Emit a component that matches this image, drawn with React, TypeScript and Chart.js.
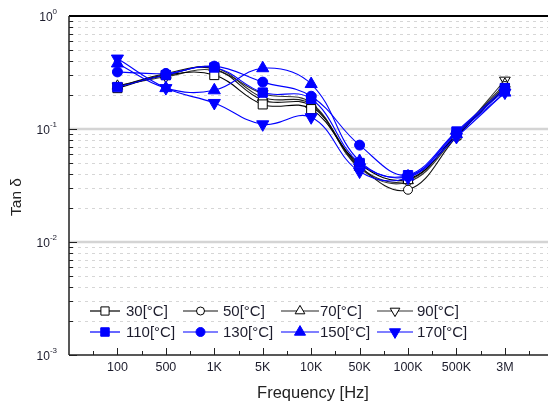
import React, { useEffect, useRef } from 'react';
import { Chart, registerables } from 'chart.js';

Chart.register(...registerables);

// ---- data ----
const categories = ['100', '500', '1K', '5K', '10K', '50K', '100K', '500K', '3M'];
const seriesLabels = ['30[°C]', '50[°C]', '70[°C]', '90[°C]', '110[°C]', '130[°C]', '150[°C]', '170[°C]'];
const t30 = [0.23, 0.30, 0.30, 0.165, 0.15, 0.049, 0.036, 0.088, 0.23];
const t50 = [0.235, 0.31, 0.34, 0.18, 0.16, 0.047, 0.029, 0.085, 0.24];
const t70 = [0.24, 0.30, 0.35, 0.19, 0.165, 0.046, 0.035, 0.09, 0.25];
const t90 = [0.24, 0.29, 0.33, 0.205, 0.17, 0.045, 0.034, 0.087, 0.27];
const t110 = [0.235, 0.30, 0.35, 0.21, 0.185, 0.05, 0.039, 0.095, 0.23];
const t130 = [0.32, 0.31, 0.36, 0.26, 0.195, 0.072, 0.039, 0.093, 0.22];
const t150 = [0.38, 0.23, 0.22, 0.345, 0.25, 0.052, 0.038, 0.09, 0.21];
const t170 = [0.42, 0.23, 0.17, 0.11, 0.127, 0.042, 0.037, 0.085, 0.21];
const seriesValues = [t30, t50, t70, t90, t110, t130, t150, t170];
const yTickExponents = [0, -1, -2, -3];
const xTitle = 'Frequency [Hz]';
const yTitle = 'Tan δ';

const FONT = '"Liberation Sans", Arial, sans-serif';
const BLUE = '#0000ff';

type Sty = { shape: string; down: boolean; color: string; fill: string; r: number; lineColor: string };
const styles: Sty[] = [
  { shape: 'rect', down: false, color: '#000', fill: '#fff', r: 6.4, lineColor: '#000' },
  { shape: 'circle', down: false, color: '#000', fill: '#fff', r: 4.5, lineColor: '#111' },
  { shape: 'triangle', down: false, color: '#000', fill: '#fff', r: 6.2, lineColor: '#222' },
  { shape: 'triangle', down: true, color: '#000', fill: '#fff', r: 6.2, lineColor: '#333' },
  { shape: 'rect', down: false, color: BLUE, fill: BLUE, r: 6.6, lineColor: BLUE },
  { shape: 'circle', down: false, color: BLUE, fill: BLUE, r: 5, lineColor: BLUE },
  { shape: 'triangle', down: false, color: BLUE, fill: BLUE, r: 7, lineColor: BLUE },
  { shape: 'triangle', down: true, color: BLUE, fill: BLUE, r: 7, lineColor: BLUE },
];

function drawMarker(ctx: CanvasRenderingContext2D, s: Sty, x: number, y: number, r: number) {
  ctx.save();
  ctx.beginPath();
  if (s.shape === 'rect') {
    const h = r * Math.SQRT1_2;
    ctx.rect(x - h, y - h, 2 * h, 2 * h);
  } else if (s.shape === 'circle') {
    ctx.arc(x, y, r, 0, Math.PI * 2);
  } else {
    const d = s.down ? -1 : 1;
    ctx.moveTo(x, y - d * r);
    ctx.lineTo(x + r * 0.866, y + (d * r) / 2);
    ctx.lineTo(x - r * 0.866, y + (d * r) / 2);
    ctx.closePath();
  }
  ctx.fillStyle = s.fill;
  ctx.fill();
  ctx.strokeStyle = s.color;
  ctx.lineWidth = 1;
  ctx.stroke();
  ctx.restore();
}

const gridPlugin = {
  id: 'customGrid',
  beforeDatasetsDraw(chart: any) {
    const { ctx, chartArea: a, scales } = chart;
    const ys = scales.y;
    ctx.save();
    // minor dotted
    ctx.strokeStyle = '#d6d6d6';
    ctx.lineWidth = 1;
    ctx.setLineDash([3, 4]);
    for (let k = -3; k < 0; k++) {
      for (let m = 2; m <= 9; m++) {
        const y = Math.round(ys.getPixelForValue(m * Math.pow(10, k))) + 0.5;
        ctx.beginPath();
        ctx.moveTo(a.left + 2, y);
        ctx.lineTo(a.right, y);
        ctx.stroke();
      }
    }
    ctx.setLineDash([]);
    ctx.strokeStyle = '#d4d4d4';
    ctx.lineWidth = 2.5;
    [0.1, 0.01].forEach((v) => {
      const y = ys.getPixelForValue(v);
      ctx.beginPath();
      ctx.moveTo(a.left, y);
      ctx.lineTo(a.right, y);
      ctx.stroke();
    });
    ctx.restore();
  },
  afterDatasetsDraw(chart: any) {
    const { ctx, chartArea: a, scales } = chart;
    const xs = scales.x;
    const ys = scales.y;
    ctx.save();
    // axes lines
    ctx.strokeStyle = '#000';
    ctx.lineWidth = 2;
    ctx.beginPath();
    ctx.moveTo(a.left, a.top);
    ctx.lineTo(a.right, a.top);
    ctx.stroke();
    ctx.lineWidth = 1.5;
    ctx.strokeStyle = '#222';
    ctx.beginPath();
    ctx.moveTo(a.left, a.top);
    ctx.lineTo(a.left, a.bottom);
    ctx.moveTo(a.left, a.bottom);
    ctx.lineTo(a.right, a.bottom);
    ctx.stroke();

    // y ticks (inside)
    ctx.lineWidth = 1;
    ctx.strokeStyle = '#222';
    for (let k = -3; k < 0; k++) {
      for (let m = 1; m <= 9; m++) {
        const y = Math.round(ys.getPixelForValue(m * Math.pow(10, k))) + 0.5;
        const len = m === 1 ? 8 : 4;
        ctx.beginPath();
        ctx.moveTo(a.left, y);
        ctx.lineTo(a.left + len, y);
        ctx.stroke();
      }
    }
    // x ticks (inside)
    for (let i = -1; i <= categories.length; i++) {
      [0, 0.5].forEach((off) => {
        const v = i + off;
        const x = Math.round(xs.getPixelForValue(v)) + 0.5;
        if (x < a.left + 1 || x > a.right) return;
        const len = off === 0 ? 7 : 4;
        ctx.beginPath();
        ctx.moveTo(x, a.bottom);
        ctx.lineTo(x, a.bottom - len);
        ctx.stroke();
      });
    }

    // x tick labels
    ctx.fillStyle = '#1c1c2c';
    ctx.font = `12.5px ${FONT}`;
    ctx.textAlign = 'center';
    ctx.textBaseline = 'middle';
    categories.forEach((c, i) => {
      ctx.fillText(c, xs.getPixelForValue(i), a.bottom + 13);
    });

    // y tick labels with superscripts
    yTickExponents.forEach((e) => {
      const y = ys.getPixelForValue(Math.pow(10, e));
      const exp = e === 0 ? '0' : '-' + String(-e);
      ctx.font = `8px ${FONT}`;
      const ew = ctx.measureText(exp).width;
      ctx.textAlign = 'left';
      ctx.textBaseline = 'middle';
      const right = 57;
      ctx.fillText(exp, right - ew, y - 4);
      ctx.font = `12px ${FONT}`;
      ctx.textAlign = 'right';
      ctx.fillText('10', right - ew, y + 1.5);
    });

    // axis titles
    ctx.fillStyle = '#222';
    ctx.font = `16.5px ${FONT}`;
    ctx.textAlign = 'center';
    ctx.textBaseline = 'middle';
    ctx.fillText(xTitle, 313, 393);
    ctx.save();
    ctx.translate(17, 197);
    ctx.rotate(-Math.PI / 2);
    ctx.font = `15.5px ${FONT}`;
    ctx.fillText(yTitle, 0, 0);
    ctx.restore();

    // legend
    const colLineStart = [90, 183, 281, 377];
    const colLineEnd = [120, 218, 319, 413];
    const colText = [126, 223, 320, 417];
    const rowY = [311, 332];
    seriesLabels.forEach((lab, idx) => {
      const row = Math.floor(idx / 4);
      const col = idx % 4;
      const s = styles[idx];
      const y = rowY[row];
      ctx.strokeStyle = s.lineColor;
      ctx.lineWidth = 1.2;
      ctx.beginPath();
      ctx.moveTo(colLineStart[col], y);
      ctx.lineTo(colLineEnd[col], y);
      ctx.stroke();
      const mx = (colLineStart[col] + colLineEnd[col]) / 2;
      drawMarker(ctx, s, mx, y, s.shape === 'circle' ? s.r - 0.5 : s.r - 0.6);
      ctx.fillStyle = '#1c1c2c';
      ctx.font = `15px ${FONT}`;
      ctx.textAlign = 'left';
      ctx.textBaseline = 'middle';
      ctx.fillText(lab, colText[col], y + 1);
    });
    ctx.restore();
  },
};

export default function App() {
  const ref = useRef<HTMLCanvasElement | null>(null);
  useEffect(() => {
    if (!ref.current) return;
    const datasets = seriesValues.map((vals, idx) => {
      const s = styles[idx];
      return {
        label: seriesLabels[idx],
        data: vals.map((v, i) => ({ x: i, y: v })),
        borderColor: s.lineColor,
        borderWidth: 1.1,
        backgroundColor: s.fill,
        pointBackgroundColor: s.fill,
        pointBorderColor: s.color,
        pointBorderWidth: 1,
        pointStyle: s.shape,
        pointRotation: s.down ? 180 : 0,
        pointRadius: s.r,
        tension: 0.4,
        fill: false,
        order: idx < 4 ? 10 : 0,
      };
    });
    const chart = new Chart(ref.current, {
      type: 'line',
      data: { datasets },
      options: {
        responsive: false,
        animation: false,
        events: [],
        layout: { padding: { left: 69, top: 16, right: 0, bottom: 51 } },
        plugins: { legend: { display: false }, tooltip: { enabled: false } },
        scales: {
          x: { type: 'linear', min: -1, max: 8.89, display: false },
          y: { type: 'logarithmic', min: 0.001, max: 1, display: false },
        },
      },
      plugins: [gridPlugin],
    } as any);
    return () => chart.destroy();
  }, []);
  return (
    <div style={{ position: 'fixed', left: 0, top: 0, width: 556, height: 406, background: '#fff' }}>
      <canvas ref={ref} width={556} height={406} style={{ display: 'block' }} />
    </div>
  );
}
